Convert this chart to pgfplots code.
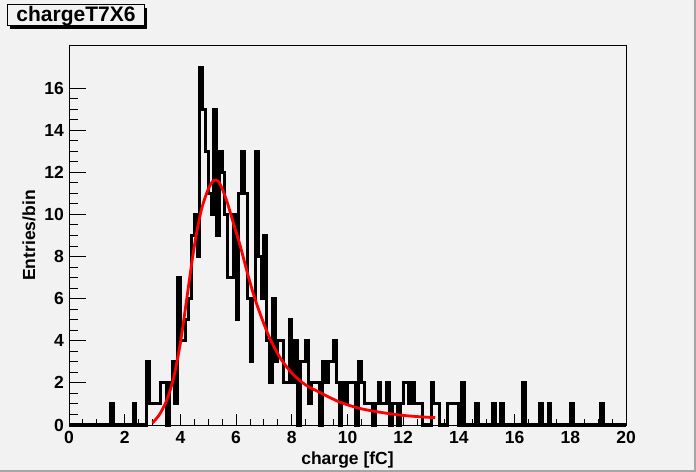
\documentclass[border=0pt]{standalone}
\usepackage{fontspec}
\setmainfont{Liberation Sans}
\usepackage{pgfplots}
\pgfplotsset{compat=1.18}
\definecolor{bg}{RGB}{242,242,242}
\definecolor{rootred}{RGB}{255,0,0}
\begin{document}
\begin{tikzpicture}
\fill[bg] (0bp,0bp) rectangle (696bp,472bp);
\fill[black!35] (0bp,0bp) rectangle (696bp,2bp);
\fill[black!35] (694bp,0bp) rectangle (696bp,472bp);
% title box
\fill[black] (10bp,443bp) rectangle (147bp,464bp);
\filldraw[fill=bg,draw=black,line width=1bp] (7bp,446bp) rectangle (144bp,467bp);
\node[anchor=base,inner sep=0pt,font=\bfseries\fontsize{21bp}{24bp}\selectfont] at (76bp,450bp) {chargeT7X6};
\begin{axis}[
  at={(69bp,47bp)}, anchor=south west,
  scale only axis, width=557bp, height=379bp,
  xmin=0, xmax=20, ymin=0, ymax=18,
  xtick={0,2,...,20}, ytick={0,2,...,16},
  minor x tick num=3, minor y tick num=3,
  tick align=inside, xtick pos=left, ytick pos=left,
  major tick length=11bp, minor tick length=5.5bp,
  ytick style={/pgfplots/major tick length=17bp,/pgfplots/minor tick length=8.5bp},
  axis line style={line width=1bp,black},
  every tick/.style={black,line width=1bp},
  tick label style={font=\bfseries\fontsize{17.5bp}{20bp}\selectfont},
  /pgf/number format/assume math mode=true,
  xticklabel style={inner sep=0pt,yshift=-6bp},
  yticklabel style={inner sep=0pt,xshift=-5bp},
  xlabel={charge [fC]}, ylabel={Entries/bin},
  label style={font=\bfseries\fontsize{17.5bp}{20bp}\selectfont,inner sep=0pt},
  xlabel style={at={(axis description cs:0.5,-0.1055)},anchor=base},
  ylabel style={at={(axis description cs:-0.061,0.5)},anchor=base},
  clip=false,
]
\addplot[const plot mark left, black, line width=3bp, no marks] coordinates {
(0,0) (1.5,1) (1.6,0) (2.3,1) (2.4,0) (2.8,3) (2.9,1) (3.0,1) (3.1,1) (3.2,1)
(3.3,2) (3.4,2) (3.5,0) (3.6,2) (3.7,3) (3.8,1) (3.9,7) (4.0,4) (4.1,4) (4.2,5)
(4.3,6) (4.4,9) (4.5,10) (4.6,8) (4.7,17) (4.8,15) (4.9,13) (5.0,11) (5.1,10) (5.2,15)
(5.3,9) (5.4,13) (5.5,12) (5.6,10) (5.7,7) (5.8,7) (5.9,10) (6.0,5) (6.1,11) (6.2,13)
(6.3,11) (6.4,6) (6.5,3) (6.6,6) (6.7,13) (6.8,8) (6.9,6) (7.0,9) (7.1,4) (7.2,2)
(7.3,6) (7.4,3) (7.5,4) (7.6,4) (7.7,2) (7.8,2) (7.9,5) (8.0,2) (8.1,4) (8.2,0)
(8.3,3) (8.4,3) (8.5,4) (8.6,1) (8.7,2) (8.8,2) (8.9,2) (9.0,0) (9.1,3) (9.2,2)
(9.3,3) (9.4,3) (9.5,4) (9.6,2) (9.7,0) (9.8,2) (9.9,1) (10.0,2) (10.1,2) (10.2,2)
(10.3,0) (10.4,3) (10.5,2) (10.6,1) (10.7,1) (10.8,1) (10.9,0) (11.0,1) (11.1,2) (11.2,1)
(11.3,1) (11.4,2) (11.5,0) (11.6,1) (11.7,1) (11.8,0) (11.9,1) (12.0,2) (12.1,2) (12.2,1)
(12.3,2) (12.4,1) (12.5,1) (12.6,1) (12.7,0) (13.0,2) (13.1,1) (13.2,1) (13.3,0) (13.6,1)
(13.7,1) (13.8,1) (13.9,1) (14.0,0) (14.1,2) (14.2,0) (14.6,1) (14.7,0) (15.2,1) (15.3,0)
(15.5,1) (15.6,0) (16.3,2) (16.4,0) (16.9,1) (17.0,0) (17.2,1) (17.3,0) (18.0,1) (18.1,0)
(19.1,1) (19.2,0) (20,0)
};
\addplot[rootred, line width=2.8bp, smooth, no marks] coordinates {
(3.0,0.1) (3.25,0.5) (3.5,1.15) (3.75,2.2) (4.0,3.9) (4.25,6.2) (4.5,8.5) (4.75,10.2)
(5.0,11.2) (5.2,11.62) (5.4,11.5) (5.65,10.7) (5.9,9.6) (6.15,8.5) (6.4,7.25) (6.65,6.1)
(6.9,5.15) (7.2,4.15) (7.6,3.15) (8.05,2.4) (8.5,1.9) (9.0,1.55) (9.7,1.1) (10.4,0.8)
(11.1,0.62) (11.9,0.47) (12.6,0.39) (13.15,0.35)
};
\end{axis}
\end{tikzpicture}
\end{document}
